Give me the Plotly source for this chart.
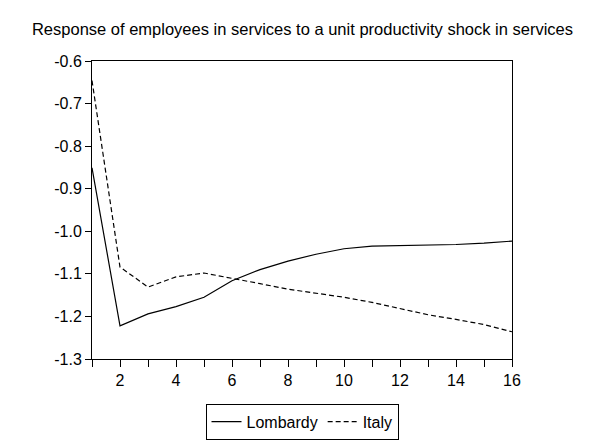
import plotly.graph_objects as go

periods = list(range(1, 17))
lombardy = [-0.851, -1.222, -1.194, -1.177, -1.155, -1.116, -1.090, -1.070,
            -1.054, -1.041, -1.035, -1.034, -1.033, -1.031, -1.028, -1.023]
italy = [-0.646, -1.084, -1.131, -1.107, -1.098, -1.110, -1.123, -1.136,
         -1.146, -1.155, -1.167, -1.181, -1.196, -1.207, -1.219, -1.236]

y_ticks = [-1.3, -1.2, -1.1, -1.0, -0.9, -0.8, -0.7, -0.6]
y_labels = ["-1.3", "-1.2", "-1.1", "-1.0", "-0.9", "-0.8", "-0.7", "-0.6"]
x_ticks = [2, 4, 6, 8, 10, 12, 14, 16]

font = "Arial, Liberation Sans, sans-serif"

fig = go.Figure()
fig.add_trace(go.Scatter(x=periods, y=lombardy, mode="lines", name="Lombardy",
                         line=dict(color="black", width=1.2)))
fig.add_trace(go.Scatter(x=periods, y=italy, mode="lines", name="Italy",
                         line=dict(color="black", width=1.2, dash="5px,3px")))

fig.update_layout(
    width=589, height=444,
    margin=dict(l=84, r=85, t=53, b=77),
    paper_bgcolor="white", plot_bgcolor="white",
    font=dict(family=font, size=16, color="black"),
    title=dict(text="Response of employees in services to a unit productivity shock in services",
               x=0.5, xanchor="center", xref="container",
               y=0.953, yanchor="middle", yref="container",
               font=dict(size=16.5)),
    showlegend=True,
    legend=dict(orientation="h", x=0.5, xanchor="center", y=-0.15, yanchor="top",
                bordercolor="black", borderwidth=1, font=dict(size=16),
                itemwidth=30),
)
fig.update_xaxes(range=[1, 16], tickvals=x_ticks, ticks="outside", ticklen=7,
                 tickcolor="black", showline=True, linecolor="black", linewidth=1,
                 mirror=True, showgrid=False, zeroline=False,
                 minor=dict(dtick=1, tick0=1, ticks="outside", ticklen=7, tickcolor="black"))
fig.update_yaxes(range=[-1.3, -0.6], tickvals=y_ticks, ticktext=y_labels,
                 ticks="outside", ticklen=6, tickcolor="black",
                 showline=True, linecolor="black", linewidth=1, mirror=True,
                 showgrid=False, zeroline=False)

fig.write_html("out.html")
